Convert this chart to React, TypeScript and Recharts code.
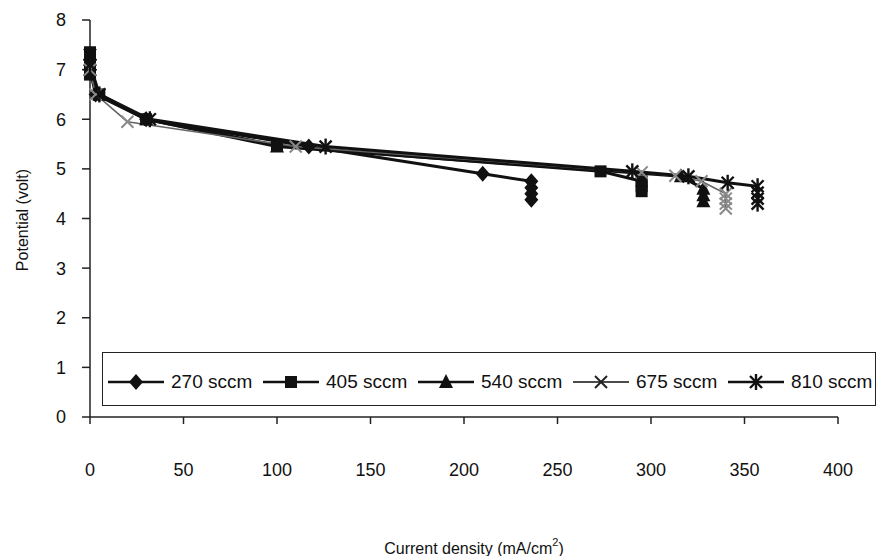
import React from "react";
import { LineChart, Line, XAxis, YAxis, Legend, Label } from "recharts";

const FONT = '"Liberation Sans", Arial, Helvetica, sans-serif';

// Current density (mA/cm^2) and potential (volt) for each flow rate
const current270 = [0, 0, 3, 30, 117, 210, 236, 236, 236, 236];
const potential270 = [7.2, 7.0, 6.5, 6.0, 5.45, 4.9, 4.75, 4.62, 4.5, 4.38];

const current405 = [0, 0, 0, 5, 30, 100, 273, 295, 295, 295];
const potential405 = [7.35, 7.1, 6.9, 6.5, 6.0, 5.47, 4.95, 4.75, 4.65, 4.55];

const current540 = [0, 0, 5, 30, 100, 316, 328, 328, 328];
const potential540 = [7.2, 7.0, 6.5, 6.0, 5.45, 4.85, 4.6, 4.47, 4.35];

const current675 = [0, 3, 20, 110, 295, 313, 327, 340, 340, 340, 340];
const potential675 = [7.0, 6.5, 5.95, 5.45, 4.93, 4.86, 4.75, 4.5, 4.4, 4.3, 4.2];

const current810 = [0, 0, 5, 32, 126, 290, 320, 341, 357, 357, 357, 357];
const potential810 = [7.3, 7.1, 6.5, 6.0, 5.45, 4.95, 4.85, 4.72, 4.65, 4.52, 4.4, 4.3];

const xTicks = [0, 50, 100, 150, 200, 250, 300, 350, 400];
const yTicks = [0, 1, 2, 3, 4, 5, 6, 7, 8];

type Kind = "diamond" | "square" | "triangle" | "cross" | "star";

const zip = (xs: number[], ys: number[]) => xs.map((x, i) => ({ x, y: ys[i] }));

const series = [
  { name: "270 sccm", kind: "diamond" as Kind, data: zip(current270, potential270), stroke: "#111", width: 3, mark: "#111" },
  { name: "405 sccm", kind: "square" as Kind, data: zip(current405, potential405), stroke: "#111", width: 3, mark: "#111" },
  { name: "540 sccm", kind: "triangle" as Kind, data: zip(current540, potential540), stroke: "#111", width: 3, mark: "#111" },
  { name: "675 sccm", kind: "cross" as Kind, data: zip(current675, potential675), stroke: "#666", width: 1.6, mark: "#8a8a8a" },
  { name: "810 sccm", kind: "star" as Kind, data: zip(current810, potential810), stroke: "#111", width: 3, mark: "#111" },
];

function Marker({ kind, cx, cy, color }: { kind: Kind; cx: number; cy: number; color: string }) {
  switch (kind) {
    case "diamond":
      return <polygon points={`${cx},${cy - 8} ${cx + 7},${cy} ${cx},${cy + 8} ${cx - 7},${cy}`} fill={color} />;
    case "square":
      return <rect x={cx - 6} y={cy - 6} width={12} height={12} fill={color} />;
    case "triangle":
      return <polygon points={`${cx},${cy - 8} ${cx + 7},${cy + 6} ${cx - 7},${cy + 6}`} fill={color} />;
    case "cross":
      return (
        <g stroke={color} strokeWidth={2}>
          <line x1={cx - 6} y1={cy - 6} x2={cx + 6} y2={cy + 6} />
          <line x1={cx - 6} y1={cy + 6} x2={cx + 6} y2={cy - 6} />
        </g>
      );
    default:
      return (
        <g stroke={color} strokeWidth={2.4}>
          <line x1={cx - 6} y1={cy - 6} x2={cx + 6} y2={cy + 6} />
          <line x1={cx - 6} y1={cy + 6} x2={cx + 6} y2={cy - 6} />
          <line x1={cx} y1={cy - 8} x2={cx} y2={cy + 8} />
        </g>
      );
  }
}

const LegendBox = () => (
  <div
    style={{
      border: "1.5px solid #222",
      height: 54,
      boxSizing: "border-box",
      display: "flex",
      alignItems: "center",
      paddingLeft: 5,
      paddingTop: 6,
      fontFamily: FONT,
      fontSize: 19,
      color: "#111",
      background: "#fff",
    }}
  >
    {series.map((s) => (
      <div key={s.name} style={{ display: "flex", alignItems: "center", width: 155, flex: "none" }}>
        <svg width={56} height={20} style={{ display: "block" }}>
          <line x1={0} y1={10} x2={56} y2={10} stroke="#111" strokeWidth={s.kind === "cross" ? 1.5 : 2.5} />
          <Marker kind={s.kind} cx={28} cy={10} color={s.kind === "cross" ? "#222" : "#111"} />
        </svg>
        <span style={{ marginLeft: 7, whiteSpace: "nowrap" }}>{s.name}</span>
      </div>
    ))}
  </div>
);

const XTitle = (props: any) => {
  const vb = props.viewBox || {};
  const cx = vb.x + vb.width / 2 + 10;
  return (
    <text x={cx} y={554} textAnchor="middle" fontFamily={FONT} fontSize={16} fill="#111">
      Current density (mA/cm
      <tspan dy={-8} fontSize={11}>2</tspan>
      <tspan dy={8}>)</tspan>
    </text>
  );
};

export default function App() {
  return (
    <div style={{ position: "absolute", left: 0, top: 0, width: 881, height: 556, background: "#fff" }}>
      <LineChart width={881} height={556} margin={{ top: 20, right: 43, left: 30, bottom: 59 }}>
        <XAxis
          type="number"
          dataKey="x"
          domain={[0, 400]}
          ticks={xTicks}
          interval={0}
          height={80}
          axisLine={{ stroke: "#222", strokeWidth: 1.5 }}
          tickLine={{ stroke: "#222", strokeWidth: 1.5 }}
          tickSize={7}
          tickMargin={39}
          tick={{ fontFamily: FONT, fontSize: 18, fill: "#111" }}
        >
          <Label content={<XTitle />} />
        </XAxis>
        <YAxis
          type="number"
          domain={[0, 8]}
          ticks={yTicks}
          interval={0}
          width={60}
          axisLine={{ stroke: "#222", strokeWidth: 1.5 }}
          tickLine={{ stroke: "#222", strokeWidth: 1.5 }}
          tickSize={8}
          tickMargin={16}
          tick={{ fontFamily: FONT, fontSize: 18, fill: "#111" }}
        >
          <Label
            value="Potential (volt)"
            angle={-90}
            position="insideLeft"
            offset={0}
            content={(p: any) => {
              const vb = p.viewBox || {};
              const cy = 220;
              return (
                <text
                  x={22}
                  y={cy}
                  transform={`rotate(-90, 22, ${cy})`}
                  textAnchor="middle"
                  dominantBaseline="central"
                  fontFamily={FONT}
                  fontSize={16}
                  fill="#111"
                >
                  Potential (volt)
                </text>
              );
            }}
          />
        </YAxis>
        <Legend
          layout="horizontal"
          verticalAlign="middle"
          content={<LegendBox />}
          wrapperStyle={{ left: 102, top: 352, width: 774, height: 54 }}
        />
        {series.map((s) => (
          <Line
            key={s.name}
            name={s.name}
            data={s.data}
            dataKey="y"
            type="linear"
            stroke={s.stroke}
            strokeWidth={s.width}
            isAnimationActive={false}
            dot={(p: any) => <Marker key={`${s.name}-${p.index}`} kind={s.kind} cx={p.cx} cy={p.cy} color={s.mark} />}
            activeDot={false}
          />
        ))}
      </LineChart>
    </div>
  );
}
